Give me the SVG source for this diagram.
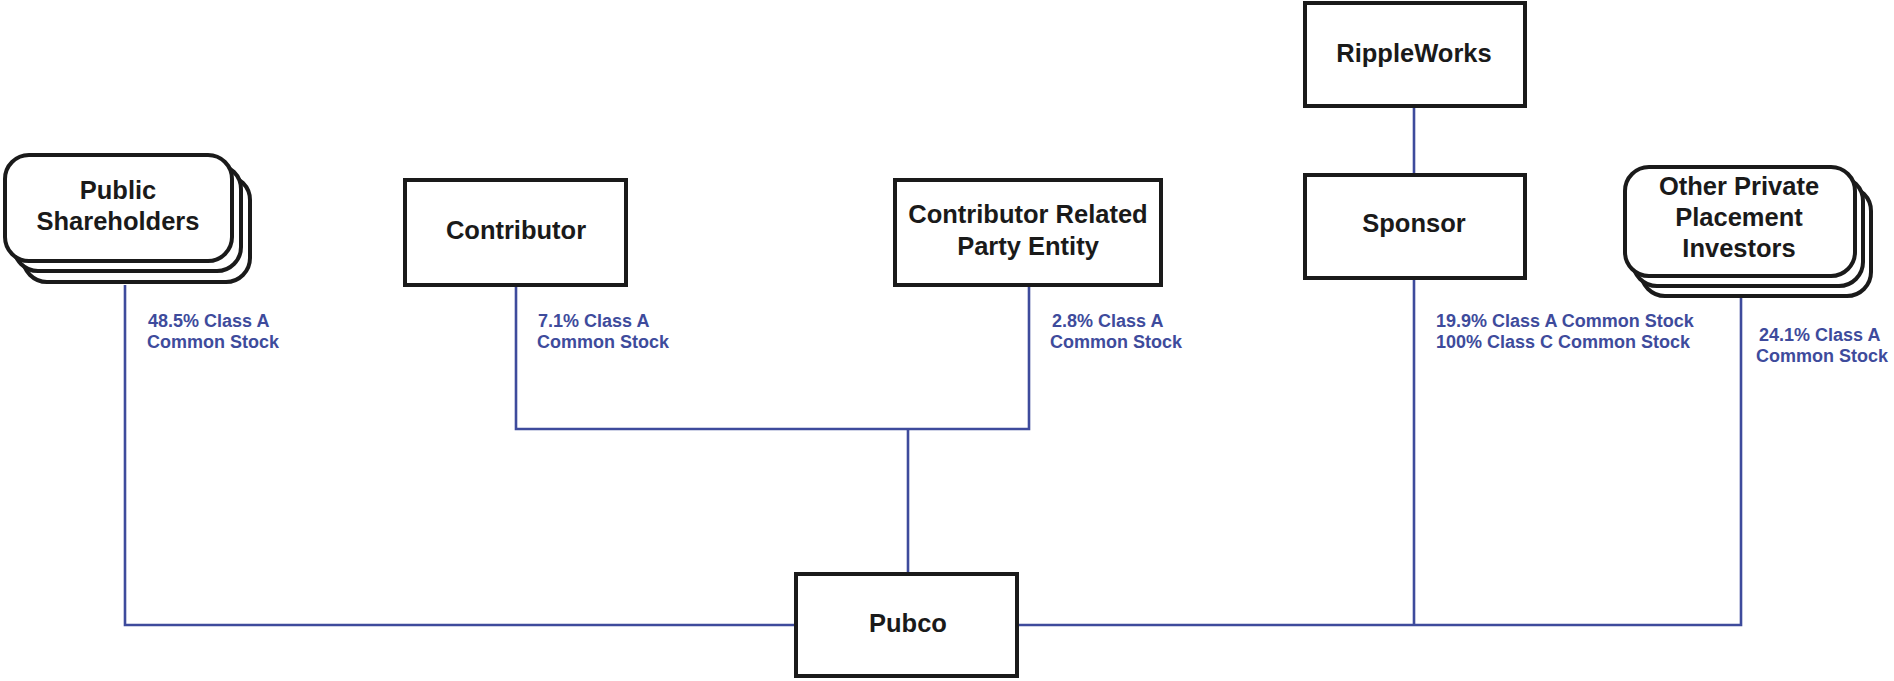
<svg xmlns="http://www.w3.org/2000/svg" width="1894" height="681" viewBox="0 0 1894 681">
<style>
.box{fill:#fff;stroke:#1a1a1a;stroke-width:4}
.rbox{fill:#fff;stroke:#1a1a1a;stroke-width:4}
.conn{fill:none;stroke:#3e4b9c;stroke-width:2.6}
.nt{font-family:"Liberation Sans",Arial,sans-serif;font-weight:bold;font-size:25.5px;fill:#1a1a1a;text-anchor:middle}
.lb{font-family:"Liberation Sans",Arial,sans-serif;font-weight:bold;font-size:18px;fill:#3e4b9c}
</style>
<rect width="1894" height="681" fill="#fff"/>
<g id="connectors">
<path class="conn" d="M125 285 V625 H796"/>
<path class="conn" d="M516 287 V429 H1029 V287"/>
<path class="conn" d="M908 429 V574"/>
<path class="conn" d="M1414 106 V175"/>
<path class="conn" d="M1414 278 V625"/>
<path class="conn" d="M1017 625 H1741 V296"/>
</g>
<g id="public-shareholders">
<rect class="rbox" x="23" y="176" width="227" height="106" rx="24"/>
<rect class="rbox" x="14" y="165" width="227" height="106" rx="24"/>
<rect class="rbox" x="5" y="155" width="227" height="106" rx="24"/>
<text class="nt" x="118" y="199">Public</text>
<text class="nt" x="118" y="230">Shareholders</text>
</g>
<g id="contributor">
<rect class="box" x="405" y="180" width="221" height="105"/>
<text class="nt" x="516" y="239">Contributor</text>
</g>
<g id="contributor-related-party-entity">
<rect class="box" x="895" y="180" width="266" height="105"/>
<text class="nt" x="1028" y="223">Contributor Related</text>
<text class="nt" x="1028" y="255">Party Entity</text>
</g>
<g id="rippleworks">
<rect class="box" x="1305" y="3" width="220" height="103"/>
<text class="nt" x="1414" y="62">RippleWorks</text>
</g>
<g id="sponsor">
<rect class="box" x="1305" y="175" width="220" height="103"/>
<text class="nt" x="1414" y="232">Sponsor</text>
</g>
<g id="other-private-placement-investors">
<rect class="rbox" x="1641" y="187" width="230" height="109" rx="24"/>
<rect class="rbox" x="1633" y="177" width="230" height="109" rx="24"/>
<rect class="rbox" x="1625" y="167" width="230" height="109" rx="24"/>
<text class="nt" x="1739" y="195">Other Private</text>
<text class="nt" x="1739" y="226">Placement</text>
<text class="nt" x="1739" y="257">Investors</text>
</g>
<g id="pubco">
<rect class="box" x="796" y="574" width="221" height="102"/>
<text class="nt" x="908" y="632">Pubco</text>
</g>
<g id="labels">
<text class="lb" x="148" y="327">48.5% Class A</text>
<text class="lb" x="147" y="348">Common Stock</text>
<text class="lb" x="538" y="327">7.1% Class A</text>
<text class="lb" x="537" y="348">Common Stock</text>
<text class="lb" x="1052" y="327">2.8% Class A</text>
<text class="lb" x="1050" y="348">Common Stock</text>
<text class="lb" x="1436" y="327">19.9% Class A Common Stock</text>
<text class="lb" x="1436" y="348">100% Class C Common Stock</text>
<text class="lb" x="1759" y="341">24.1% Class A</text>
<text class="lb" x="1756" y="362">Common Stock</text>
</g>
</svg>
